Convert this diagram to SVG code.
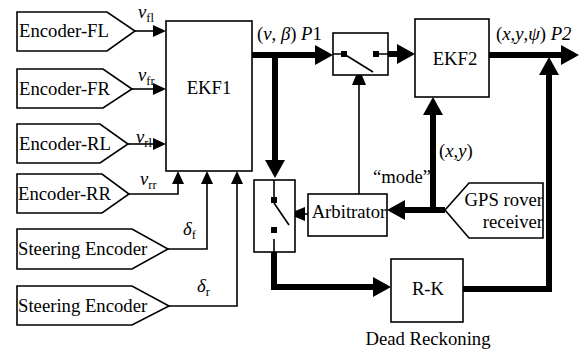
<svg xmlns="http://www.w3.org/2000/svg" width="579" height="351" viewBox="0 0 579 351">
<style>
.t{font-family:"Liberation Serif",serif;font-size:18.7px;fill:#000}
.sub{font-size:12.5px}
.it{font-style:italic}
.box{fill:#fff;stroke:#000;stroke-width:1.6}
.thin{fill:none;stroke:#000;stroke-width:1.6}
.thick{fill:none;stroke:#000;stroke-width:6;stroke-linejoin:miter}
.sq{fill:#000}
</style>
<defs>
<marker id="aT" markerUnits="userSpaceOnUse" markerWidth="14" markerHeight="14" refX="0" refY="6" orient="auto" viewBox="0 0 14 12" overflow="visible"><path d="M0,0 L13,6 L0,12 Z" fill="#000"/></marker>
<marker id="aM" markerUnits="userSpaceOnUse" markerWidth="18" markerHeight="16" refX="0" refY="7" orient="auto" viewBox="0 0 18 14" overflow="visible"><path d="M0,0 L17,7 L0,14 Z" fill="#000"/></marker>
<marker id="aK" markerUnits="userSpaceOnUse" markerWidth="20" markerHeight="22" refX="0" refY="10" orient="auto" viewBox="0 0 20 20" overflow="visible"><path d="M0,0 L18,10 L0,20 Z" fill="#000"/></marker>
</defs>

<g id="connectors">
<path class="thin" d="M135,31 H153" marker-end="url(#aT)"/>
<path class="thin" d="M132,89 H153" marker-end="url(#aT)"/>
<path class="thin" d="M128,144 H153" marker-end="url(#aT)"/>
<path class="thin" d="M129,194 H178 V184" marker-end="url(#aT)"/>
<path class="thin" d="M168,249 H207 V184" marker-end="url(#aT)"/>
<path class="thin" d="M169,306 H237 V184" marker-end="url(#aT)"/>
<path class="thick" d="M252,55 H315" marker-end="url(#aK)"/>
<path class="thick" d="M275,55 V160" marker-end="url(#aK)"/>
<path class="thick" d="M379,54 H397" marker-end="url(#aK)"/>
<path class="thin" d="M359,194 V85" marker-end="url(#aM)"/>
<path class="thick" d="M489,55 H561" marker-end="url(#aK)"/>
<path class="thick" d="M463,289 H549 V75" marker-end="url(#aK)"/>
<path class="thick" d="M433,210 V115" marker-end="url(#aK)"/>
<path class="thick" d="M445,210 H405" marker-end="url(#aK)"/>
<path class="thin" d="M308,214 H305" marker-end="url(#aM)"/>
<path class="thick" d="M274,252 V287 H373" marker-end="url(#aK)"/>
</g>

<g id="encoder-fl"><polygon class="box" points="17,12 107,12 135,31 107,51 17,51"/><text class="t" x="19" y="37">Encoder-FL</text></g>
<g id="encoder-fr"><polygon class="box" points="17,69 103,69 132,89 103,108 17,108"/><text class="t" x="19" y="95">Encoder-FR</text></g>
<g id="encoder-rl"><polygon class="box" points="17,124 100,124 128,144 100,163 17,163"/><text class="t" x="19" y="150">Encoder-RL</text></g>
<g id="encoder-rr"><polygon class="box" points="17,174 102,174 129,194 102,213 17,213"/><text class="t" x="18" y="200">Encoder-RR</text></g>
<g id="steering-f"><polygon class="box" points="17,229 132,229 168,249 132,269 17,269"/><text class="t" x="18" y="255">Steering Encoder</text></g>
<g id="steering-r"><polygon class="box" points="17,286 132,286 169,306 132,325 17,325"/><text class="t" x="18" y="312">Steering Encoder</text></g>

<g id="ekf1"><rect class="box" x="166" y="21" width="86" height="150"/><text class="t" x="209" y="94" text-anchor="middle">EKF1</text></g>

<g id="switch1">
<rect class="box" x="333" y="33" width="55" height="42"/>
<path class="thin" d="M333,54 H341 M344,54 L373,72 M379,54 H388"/>
<rect class="sq" x="341" y="51" width="6" height="6"/>
<rect class="sq" x="373" y="51" width="6" height="6"/>
</g>

<g id="ekf2"><rect class="box" x="415" y="19" width="74" height="78"/><text class="t" x="455" y="65" text-anchor="middle">EKF2</text></g>

<g id="switch2">
<rect class="box" x="254" y="180" width="41" height="72"/>
<path class="thin" d="M274,180 V197 M274,203 L289,225 M274,239 V252"/>
<rect class="sq" x="271" y="197" width="6" height="6"/>
<rect class="sq" x="271" y="227" width="6" height="6"/>
</g>

<g id="arbitrator"><rect class="box" x="308" y="194" width="79" height="42"/><text class="t" x="349" y="218" text-anchor="middle">Arbitrator</text></g>

<g id="gps"><polygon class="box" points="445,210 469,183 543,183 543,238 469,238"/><text class="t" x="543" y="206" text-anchor="end">GPS rover</text><text class="t" x="543" y="228" text-anchor="end">receiver</text></g>

<g id="rk"><rect class="box" x="391" y="259" width="72" height="63"/><text class="t" x="428" y="295" text-anchor="middle">R-K</text><text class="t" x="428" y="345" text-anchor="middle">Dead Reckoning</text></g>

<g id="labels">
<text class="t" x="138" y="18"><tspan class="it">v</tspan><tspan class="sub" dy="4">fl</tspan></text>
<text class="t" x="138" y="81"><tspan class="it">v</tspan><tspan class="sub" dy="4">fr</tspan></text>
<text class="t" x="136" y="143"><tspan class="it">v</tspan><tspan class="sub" dy="4">rl</tspan></text>
<text class="t" x="140" y="185"><tspan class="it">v</tspan><tspan class="sub" dy="4">rr</tspan></text>
<text class="t" x="183" y="235"><tspan class="it">&#948;</tspan><tspan class="sub" dy="4">f</tspan></text>
<text class="t" x="197" y="292"><tspan class="it">&#948;</tspan><tspan class="sub" dy="4">r</tspan></text>
<text class="t" x="257" y="40">(<tspan class="it">v</tspan>, <tspan class="it">&#946;</tspan>) <tspan class="it">P</tspan>1</text>
<text class="t" x="496" y="40">(<tspan class="it">x</tspan>,<tspan class="it">y</tspan>,<tspan class="it">&#968;</tspan>) <tspan class="it">P2</tspan></text>
<text class="t" x="439" y="157">(<tspan class="it">x</tspan>,<tspan class="it">y</tspan>)</text>
<text class="t" x="373" y="183">&#8220;mode&#8221;</text>
</g>
</svg>
